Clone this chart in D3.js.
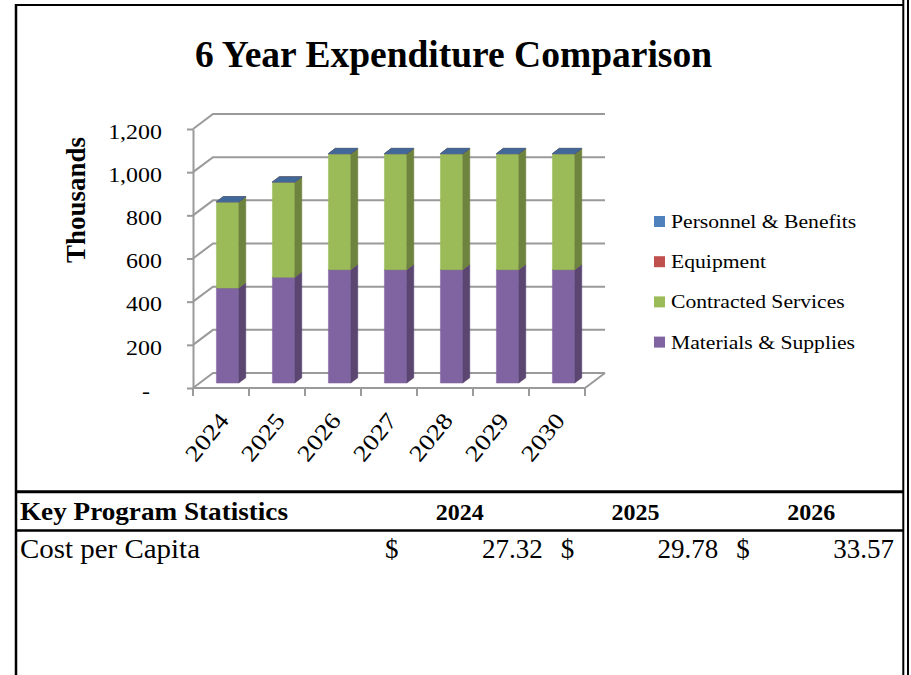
<!DOCTYPE html>
<html>
<head>
<meta charset="utf-8">
<script src="https://cdn.jsdelivr.net/npm/d3@7"></script>
<style>
  html, body { margin: 0; padding: 0; background: #fff; }
  svg { display: block; font-family: 'Liberation Serif', 'Times New Roman', serif; }
</style>
</head>
<body>
<div class="canvas"></div>
<script>
// chart data (thousands)
const years = ['2024', '2025', '2026', '2027', '2028', '2029', '2030'];
const seriesNames = ['Materials & Supplies', 'Contracted Services', 'Equipment', 'Personnel & Benefits'];
const materials = [440, 490, 525, 525, 525, 525, 525];
const contracted = [400, 442, 538, 538, 538, 538, 538];
const equipment = [0, 0, 0, 0, 0, 0, 0];
const personnel = [0, 0, 0, 0, 0, 0, 0];
const yTicks = [0, 200, 400, 600, 800, 1000, 1200];

// table data
const statYears = ['2024', '2025', '2026'];
const costPerCapita = [27.32, 29.78, 33.57];

const colors = ['#8064A2', '#9BBB59', '#C0504D', '#4F81BD'];
const dims = { width: 911, height: 675 };
const plot = { left: 193, right: 585, top: 129, bottom: 388 };
const depth = { dx: 20, dy: -15, front: 0.33, back: 0.68 };

const svg = d3
  .select('.canvas')
  .append('svg')
  .attr('width', dims.width)
  .attr('height', dims.height);

svg.append('rect').attr('width', dims.width).attr('height', dims.height).attr('fill', '#fff');

// stretch text a little wider, like the original rendering
const stretch = (sel, k) =>
  sel.each(function () {
    const w = this.getComputedTextLength();
    d3.select(this).attr('textLength', w * k).attr('lengthAdjust', 'spacingAndGlyphs');
  });

const x = d3
  .scaleBand()
  .domain(years)
  .range([plot.left, plot.right])
  .paddingInner(0.6)
  .paddingOuter(0.3);

const y = d3.scaleLinear().domain([0, 1200]).range([plot.bottom, plot.top]);

const proj = (px, v, d) => [px + d * depth.dx, y(v) + d * depth.dy];
const poly = (pts) => 'M' + pts.map((p) => p.join(',')).join('L') + 'Z';

// title
svg
  .append('text')
  .attr('x', 453.5)
  .attr('y', 67)
  .attr('text-anchor', 'middle')
  .attr('font-size', 37)
  .attr('font-weight', 'bold')
  .text('6 Year Expenditure Comparison')
  .attr('textLength', 517)
  .attr('lengthAdjust', 'spacingAndGlyphs');

// y axis title
svg
  .append('text')
  .attr('transform', 'translate(85, 200) rotate(-90)')
  .attr('text-anchor', 'middle')
  .attr('font-size', 27)
  .attr('font-weight', 'bold')
  .text('Thousands');

// walls: gridlines with depth
const grid = svg.append('g').attr('stroke', '#9a9a9a').attr('stroke-width', 2).attr('fill', 'none');

grid
  .selectAll('.grid')
  .data(yTicks)
  .enter()
  .append('path')
  .attr('class', 'grid')
  .attr('d', (d) => {
    const a = proj(plot.left, d, 0);
    const b = proj(plot.left, d, 1);
    const c = proj(plot.right, d, 1);
    return `M${a}L${b}L${c}`;
  });

// floor front and right edges
grid
  .append('path')
  .attr('d', () => {
    const a = proj(plot.left, 0, 0);
    const b = proj(plot.right, 0, 0);
    const c = proj(plot.right, 0, 1);
    return `M${a}L${b}L${c}`;
  });

// y axis
const yAxis = d3
  .axisLeft(y)
  .tickValues(yTicks)
  .tickSize(6)
  .tickSizeOuter(0)
  .tickPadding(25)
  .tickFormat((d) => (d === 0 ? '-' : d3.format(',')(d)));

const yAxisGroup = svg.append('g').attr('transform', `translate(${plot.left}, 0)`).call(yAxis);

yAxisGroup.select('.domain').attr('stroke', '#9a9a9a').attr('stroke-width', 2);
yAxisGroup.selectAll('.tick line').attr('stroke', '#9a9a9a').attr('stroke-width', 2);
yAxisGroup
  .selectAll('.tick text')
  .attr('font-family', 'Liberation Serif, serif')
  .attr('font-size', 21)
  .attr('fill', '#000')
  .attr('dy', '0.44em')
  .attr('x', (d) => (d === 0 ? -43 : -31))
  .call(stretch, 1.14);

// x ticks on band boundaries
const step = x.step();
svg
  .append('g')
  .attr('stroke', '#9a9a9a')
  .attr('stroke-width', 2)
  .selectAll('line')
  .data(years.concat(['end']))
  .enter()
  .append('line')
  .attr('x1', (d, i) => plot.left + i * step)
  .attr('x2', (d, i) => plot.left + i * step)
  .attr('y1', plot.bottom)
  .attr('y2', plot.bottom + 8);

// x labels
svg
  .append('g')
  .selectAll('text')
  .data(years)
  .enter()
  .append('text')
  .attr('transform', (d) => `translate(${x(d) + x.bandwidth() / 2 + 9}, 421) rotate(-51)`)
  .attr('text-anchor', 'end')
  .attr('font-size', 23)
  .text((d) => d)
  .call(stretch, 1.18);

// stacked 3D columns
const rows = years.map((yr, i) => ({
  year: yr,
  'Materials & Supplies': materials[i],
  'Contracted Services': contracted[i],
  Equipment: equipment[i],
  'Personnel & Benefits': personnel[i],
}));

const layers = d3.stack().keys(seriesNames)(rows);
const bars = svg.append('g');

layers.forEach((layer, li) => {
  const base = d3.color(colors[li]);
  const side = base.darker(1).formatHex();
  const top = base.darker(0.6).formatHex();
  const g = bars.append('g').attr('class', 'layer');
  const f = depth.front;
  const b = depth.back;

  const segs = g.selectAll('.seg').data(layer).enter().append('g').attr('class', 'seg');

  segs
    .append('path')
    .attr('fill', base.formatHex())
    .attr('stroke', base.formatHex())
    .attr('stroke-width', 0.5)
    .attr('d', (d) => {
      const x0 = x(d.data.year);
      const x1 = x0 + x.bandwidth();
      return poly([proj(x0, d[1], f), proj(x1, d[1], f), proj(x1, d[0], f), proj(x0, d[0], f)]);
    });

  segs
    .append('path')
    .attr('fill', side)
    .attr('stroke', side)
    .attr('stroke-width', 0.5)
    .attr('d', (d) => {
      const x1 = x(d.data.year) + x.bandwidth();
      return poly([proj(x1, d[1], f), proj(x1, d[1], b), proj(x1, d[0], b), proj(x1, d[0], f)]);
    });

  segs
    .append('path')
    .attr('fill', top)
    .attr('stroke', top)
    .attr('stroke-width', 0.5)
    .attr('d', (d) => {
      const x0 = x(d.data.year);
      const x1 = x0 + x.bandwidth();
      return poly([proj(x0, d[1], f), proj(x1, d[1], f), proj(x1, d[1], b), proj(x0, d[1], b)]);
    });
});

// legend
const legendNames = seriesNames.slice().reverse();
const legendColors = colors.slice().reverse();

const legendItems = svg
  .append('g')
  .attr('transform', 'translate(654, 221.5)')
  .selectAll('.legend-item')
  .data(legendNames)
  .enter()
  .append('g')
  .attr('class', 'legend-item')
  .attr('transform', (d, i) => `translate(0, ${i * 40.2})`);

legendItems
  .append('rect')
  .attr('x', 0)
  .attr('y', -5.5)
  .attr('width', 11)
  .attr('height', 11)
  .attr('fill', (d, i) => legendColors[i]);

legendItems
  .append('text')
  .attr('x', 17)
  .attr('y', 6.5)
  .attr('font-size', 19.5)
  .text((d) => d)
  .call(stretch, 1.11);

// frame
const frame = svg.append('g').attr('stroke', '#000').attr('fill', 'none');
frame.append('line').attr('x1', 15).attr('x2', 903).attr('y1', 5).attr('y2', 5).attr('stroke-width', 2);
frame.append('line').attr('x1', 16).attr('x2', 16).attr('y1', 4).attr('y2', dims.height).attr('stroke-width', 2.5);
frame.append('line').attr('x1', 903.3).attr('x2', 903.3).attr('y1', 0).attr('y2', dims.height).attr('stroke-width', 2);
frame.append('line').attr('x1', 908).attr('x2', 908).attr('y1', 0).attr('y2', dims.height).attr('stroke-width', 2);
frame.append('line').attr('x1', 15).attr('x2', 903).attr('y1', 491.7).attr('y2', 491.7).attr('stroke-width', 3);
frame.append('line').attr('x1', 15).attr('x2', 903).attr('y1', 530.5).attr('y2', 530.5).attr('stroke-width', 2.5);

// key program statistics table
const col = d3.scaleBand().domain(statYears).range([378, 905]);

svg
  .append('text')
  .attr('x', 20)
  .attr('y', 520)
  .attr('font-size', 26)
  .attr('font-weight', 'bold')
  .text('Key Program Statistics')
  .attr('textLength', 268)
  .attr('lengthAdjust', 'spacingAndGlyphs');

svg
  .append('g')
  .selectAll('text')
  .data(statYears)
  .enter()
  .append('text')
  .attr('x', (d) => col(d) + col.bandwidth() / 2 - 6)
  .attr('y', 520)
  .attr('text-anchor', 'middle')
  .attr('font-size', 24)
  .attr('font-weight', 'bold')
  .text((d) => d);

svg
  .append('text')
  .attr('x', 20)
  .attr('y', 558)
  .attr('font-size', 28)
  .text('Cost per Capita')
  .attr('textLength', 180)
  .attr('lengthAdjust', 'spacingAndGlyphs');

const cells = svg
  .append('g')
  .selectAll('g')
  .data(costPerCapita)
  .enter()
  .append('g')
  .attr('transform', (d, i) => `translate(${col(statYears[i])}, 558)`);

cells.append('text').attr('x', 7).attr('font-size', 27).text('$');

cells
  .append('text')
  .attr('x', col.bandwidth() - 11)
  .attr('text-anchor', 'end')
  .attr('font-size', 27)
  .text((d) => d3.format('.2f')(d));
</script>
</body>
</html>
